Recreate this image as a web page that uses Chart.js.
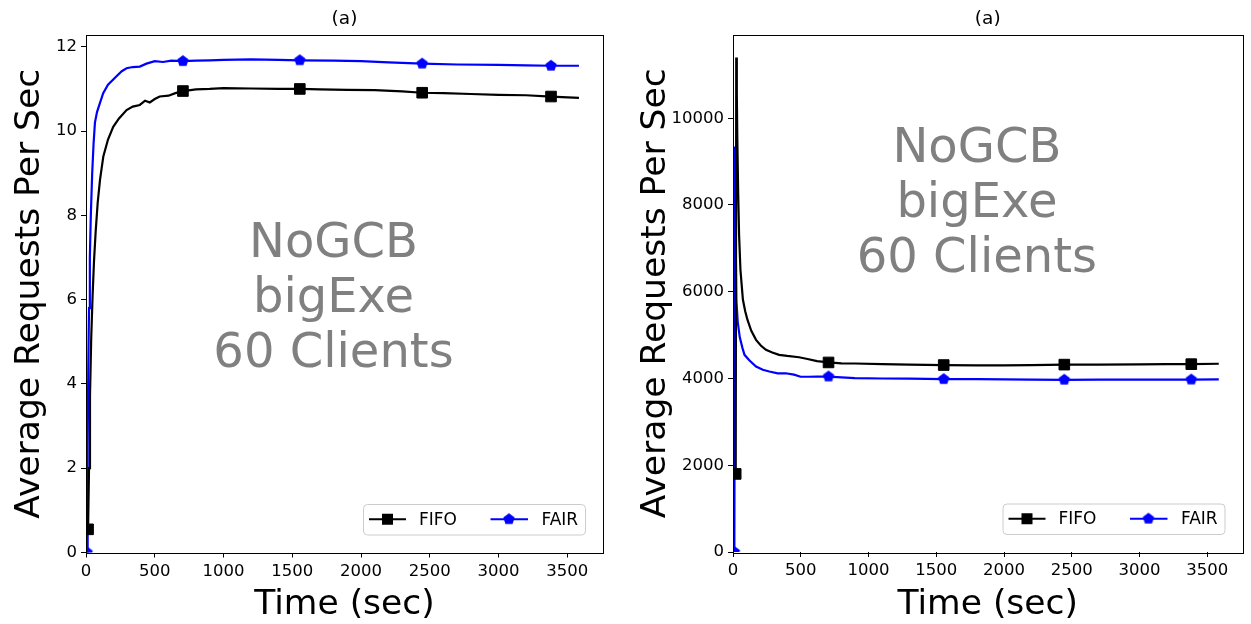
<!DOCTYPE html>
<html>
<head>
<meta charset="utf-8">
<script src="https://cdn.jsdelivr.net/npm/chart.js@4.4.1/dist/chart.umd.min.js"></script>
<style>
  html, body { margin: 0; padding: 0; background: #fff; }
  #wrap { position: relative; width: 1251px; height: 624px; }
  .panel { position: absolute; top: 0; height: 624px; }
  #panelA { left: 0; width: 626px; }
  #panelB { left: 626px; width: 625px; }
</style>
</head>
<body>
<div id="wrap">
  <div class="panel" id="panelA"><canvas id="chartA"></canvas></div>
  <div class="panel" id="panelB"><canvas id="chartB"></canvas></div>
</div>
<script>
// Average requests per second over a one hour run, FIFO vs FAIR scheduler

// left panel: requests/sec
const fifoTimeA = [15, 22, 29, 38, 48, 58, 70, 85, 102, 126, 160, 198, 240, 295, 340, 391, 430, 464, 500, 536, 600, 650, 705, 800, 900, 1000, 1200, 1400, 1555, 1700, 1900, 2100, 2300, 2445, 2600, 2800, 3000, 3200, 3382, 3585];
const fifoRateA = [0.55, 2.0, 3.7, 5.1, 6.1, 6.9, 7.6, 8.3, 8.85, 9.4, 9.8, 10.1, 10.3, 10.5, 10.58, 10.62, 10.72, 10.68, 10.76, 10.82, 10.84, 10.9, 10.95, 10.99, 11.0, 11.02, 11.01, 11.0, 11.0, 10.99, 10.98, 10.97, 10.94, 10.91, 10.9, 10.88, 10.86, 10.85, 10.82, 10.79];
const fairTimeA = [8, 12, 17, 22, 28, 35, 45, 55, 65, 80, 100, 125, 160, 222, 260, 295, 340, 391, 440, 500, 560, 620, 705, 800, 900, 1000, 1200, 1400, 1555, 1800, 2000, 2200, 2445, 2700, 3000, 3200, 3382, 3585];
const fairRateA = [0, 2.5, 4.5, 5.8, 7.0, 8.0, 9.0, 9.7, 10.2, 10.45, 10.65, 10.9, 11.1, 11.3, 11.42, 11.49, 11.52, 11.53, 11.6, 11.66, 11.64, 11.67, 11.66, 11.67, 11.68, 11.69, 11.7, 11.69, 11.68, 11.67, 11.66, 11.63, 11.6, 11.58, 11.57, 11.56, 11.55, 11.55];

// right panel: requests/sec
const fifoTimeB = [20, 24, 28, 32, 38, 45, 55, 73, 90, 107, 135, 170, 205, 243, 290, 340, 400, 487, 550, 620, 705, 800, 900, 1100, 1300, 1555, 1800, 2000, 2200, 2445, 2700, 3000, 3200, 3382, 3585];
const fifoRateB = [1800, 11400, 10600, 9500, 8300, 7300, 6500, 5820, 5550, 5350, 5100, 4890, 4760, 4660, 4600, 4545, 4520, 4490, 4450, 4400, 4370, 4350, 4345, 4330, 4320, 4310, 4300, 4300, 4310, 4320, 4320, 4325, 4330, 4330, 4340];
const fairTimeB = [10, 15, 20, 25, 35, 50, 70, 85, 120, 170, 220, 268, 330, 389, 450, 499, 560, 620, 705, 800, 900, 1100, 1300, 1555, 1800, 2000, 2200, 2445, 2700, 3000, 3200, 3382, 3585];
const fairRateB = [0, 9350, 7200, 5800, 5300, 4950, 4700, 4545, 4420, 4275, 4200, 4160, 4120, 4120, 4090, 4040, 4040, 4045, 4045, 4025, 4010, 4000, 3995, 3985, 3985, 3980, 3975, 3970, 3975, 3975, 3975, 3975, 3980];

// samples that carry a marker (besides the first one)
const markTimes = [705, 1555, 2445, 3382];

const xTickValues = [0, 500, 1000, 1500, 2000, 2500, 3000, 3500];
const yTickValuesA = [0, 2, 4, 6, 8, 10, 12];
const yTickValuesB = [0, 2000, 4000, 6000, 8000, 10000];
const xMax = 3760;
const yMaxA = 12.28;
const yMaxB = 11930;

const seriesNames = ['FIFO', 'FAIR'];
const noteLines = ['NoGCB', 'bigExe', '60 Clients'];
const panelTitle = '(a)';

const FONT = "'DejaVu Sans', sans-serif";

function pentagonImage(color, r) {
  const c = document.createElement('canvas');
  const s = Math.ceil(2 * r + 2);
  c.width = s; c.height = s;
  const g = c.getContext('2d');
  g.beginPath();
  for (let i = 0; i < 5; i++) {
    const a = -Math.PI / 2 + i * 2 * Math.PI / 5;
    g.lineTo(s / 2 + r * Math.cos(a), s / 2 + r * Math.sin(a));
  }
  g.closePath();
  g.fillStyle = color;
  g.fill();
  return c;
}
const pentagon = pentagonImage('#0000ff', 6);

function makeSeries(label, times, rates, color, style) {
  return {
    label,
    data: times.map((t, i) => ({ x: t, y: rates[i] })),
    borderColor: color,
    backgroundColor: color,
    borderWidth: 2.2,
    tension: 0,
    clip: 0,
    pointStyle: style,
    pointRadius: ctx => (ctx.dataIndex === 0 || markTimes.includes(times[ctx.dataIndex])) ? 7.5 : 0,
    pointHoverRadius: 0,
    pointBorderWidth: 1,
    pointBorderColor: color,
    pointBackgroundColor: color
  };
}

// frame, panel title, text note and legend box
const panelDecor = {
  id: 'panelDecor',
  afterDatasetsDraw(chart, args, opts) {
    const { ctx, chartArea: a, scales } = chart;
    ctx.save();

    ctx.strokeStyle = '#000';
    ctx.lineWidth = 1;
    ctx.strokeRect(Math.round(a.left) + 0.5, Math.round(a.top) + 0.5,
      Math.round(a.right - a.left), Math.round(a.bottom - a.top));

    ctx.fillStyle = '#000';
    ctx.font = '18.5px ' + FONT;
    ctx.textAlign = 'center';
    ctx.textBaseline = 'alphabetic';
    ctx.fillText(panelTitle, (a.left + a.right) / 2, a.top - 11);

    // note in the middle of the plot
    const nx = scales.x.getPixelForValue(opts.noteAt[0]);
    const ny = scales.y.getPixelForValue(opts.noteAt[1]);
    ctx.fillStyle = '#808080';
    ctx.font = '48px ' + FONT;
    [-42.5, 12.5, 67.5].forEach((dy, i) => ctx.fillText(noteLines[i], nx, ny + dy));

    // legend, lower right
    const w = 222, h = 30.5;
    const bx = a.right - 18 - w, by = a.bottom - 18 - h;
    const cy = by + h / 2;
    ctx.beginPath();
    ctx.roundRect(bx + 0.5, by + 0.5, w, h, 4);
    ctx.fillStyle = 'rgba(255,255,255,0.8)';
    ctx.fill();
    ctx.strokeStyle = '#cccccc';
    ctx.stroke();

    ctx.lineWidth = 2.2;
    ctx.strokeStyle = '#000';
    ctx.beginPath(); ctx.moveTo(bx + 6, cy); ctx.lineTo(bx + 43, cy); ctx.stroke();
    ctx.fillStyle = '#000';
    ctx.fillRect(bx + 24.5 - 5.5, cy - 5.5, 11, 11);

    ctx.strokeStyle = '#0000ff';
    ctx.beginPath(); ctx.moveTo(bx + 127.5, cy); ctx.lineTo(bx + 165, cy); ctx.stroke();
    ctx.drawImage(pentagon, bx + 146 - pentagon.width / 2, cy - pentagon.height / 2);

    ctx.fillStyle = '#000';
    ctx.font = '17px ' + FONT;
    ctx.textAlign = 'left';
    ctx.textBaseline = 'middle';
    ctx.fillText(seriesNames[0], bx + 56, cy + 1);
    ctx.fillText(seriesNames[1], bx + 178.5, cy + 1);

    ctx.restore();
  }
};

function makeChart(id, fifo, fair, yMax, yTicks, noteAt, box, W) {
  const H = 624;
  return new Chart(document.getElementById(id), {
    type: 'line',
    data: {
      datasets: [
        makeSeries(seriesNames[0], fifo[0], fifo[1], '#000000', 'rect'),
        makeSeries(seriesNames[1], fair[0], fair[1], '#0000ff', pentagon)
      ]
    },
    options: {
      responsive: true,
      maintainAspectRatio: false,
      animation: false,
      events: [],
      layout: { padding: { left: 0, top: box.top, right: W - box.right, bottom: 0 } },
      plugins: {
        legend: { display: false },
        title: { display: false },
        tooltip: { enabled: false },
        panelDecor: { noteAt }
      },
      scales: {
        x: {
          type: 'linear',
          min: 0,
          max: xMax,
          afterFit: s => { s.height = H - box.bottom; },
          afterBuildTicks: s => { s.ticks = xTickValues.map(v => ({ value: v })); },
          grid: { drawOnChartArea: false, drawTicks: true, tickLength: 5, tickColor: '#000' },
          border: { display: false },
          ticks: { color: '#000', font: { family: FONT, size: 16.5 }, padding: 4, maxRotation: 0, callback: v => String(v) },
          title: {
            display: true, text: 'Time (sec)', color: '#000',
            font: { family: FONT, size: 34.5, lineHeight: 1 }, padding: { top: 0, bottom: 2 }
          }
        },
        y: {
          type: 'linear',
          min: 0,
          max: yMax,
          afterFit: s => { s.width = box.left; },
          afterBuildTicks: s => { s.ticks = yTicks.map(v => ({ value: v })); },
          grid: { drawOnChartArea: false, drawTicks: true, tickLength: 5, tickColor: '#000' },
          border: { display: false },
          ticks: { color: '#000', font: { family: FONT, size: 16.5 }, padding: 4, callback: v => String(v) },
          title: {
            display: true, text: 'Average Requests Per Sec', color: '#000',
            font: { family: FONT, size: 34.5, lineHeight: 1 }, padding: { top: 13, bottom: 0 }
          }
        }
      }
    },
    plugins: [panelDecor]
  });
}

makeChart('chartA', [fifoTimeA, fifoRateA], [fairTimeA, fairRateA], yMaxA, yTickValuesA, [1800, 6],
  { left: 86, right: 603, top: 35, bottom: 552.5 }, 626);
makeChart('chartB', [fifoTimeB, fifoRateB], [fairTimeB, fairRateB], yMaxB, yTickValuesB, [1800, 8000],
  { left: 107, right: 622, top: 34.5, bottom: 552 }, 625);
</script>
</body>
</html>
